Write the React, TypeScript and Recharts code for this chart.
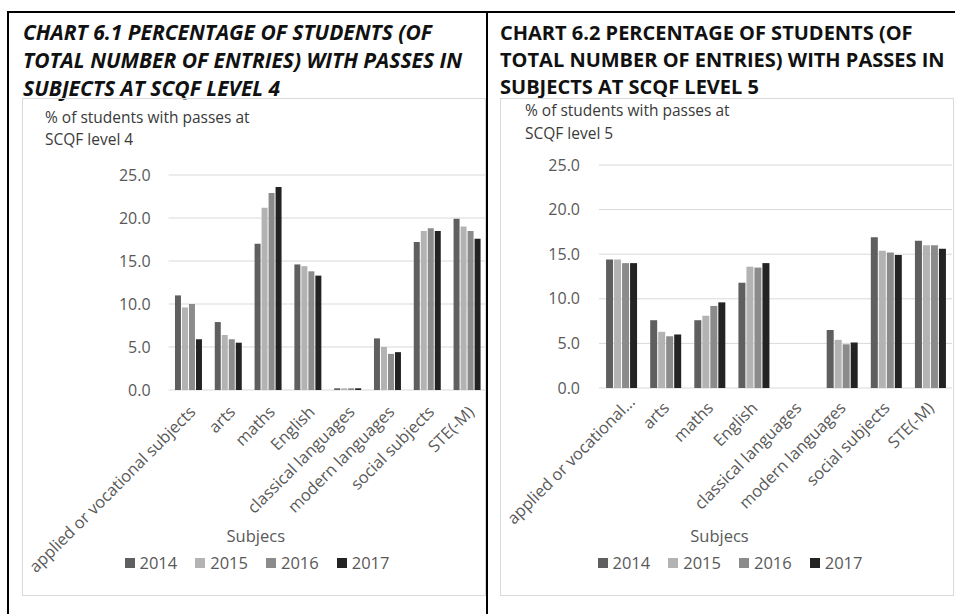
import React from 'react';
import { BarChart, Bar, XAxis, YAxis, CartesianGrid, Legend } from 'recharts';

const categories = [
  'applied or vocational subjects',
  'arts',
  'maths',
  'English',
  'classical languages',
  'modern languages',
  'social subjects',
  'STE(-M)',
];
const level4TickLabels = categories;
const level5TickLabels = [
  'applied or vocational...',
  'arts',
  'maths',
  'English',
  'classical languages',
  'modern languages',
  'social subjects',
  'STE(-M)',
];
const years = ['2014', '2015', '2016', '2017'];

const level4_2014 = [11.0, 7.9, 17.0, 14.6, 0.2, 6.0, 17.2, 19.9];
const level4_2015 = [9.6, 6.4, 21.2, 14.4, 0.2, 5.0, 18.5, 19.0];
const level4_2016 = [10.0, 5.9, 22.9, 13.8, 0.2, 4.2, 18.8, 18.5];
const level4_2017 = [5.9, 5.5, 23.6, 13.3, 0.2, 4.4, 18.5, 17.6];

const level5_2014 = [14.4, 7.6, 7.6, 11.8, null, 6.5, 16.9, 16.5];
const level5_2015 = [14.4, 6.3, 8.1, 13.6, null, 5.4, 15.4, 16.0];
const level5_2016 = [14.0, 5.8, 9.2, 13.5, null, 4.9, 15.2, 16.0];
const level5_2017 = [14.0, 6.0, 9.6, 14.0, null, 5.1, 14.9, 15.6];

const yTicks = [0, 5, 10, 15, 20, 25];
const colors = ['#5f5f5f', '#b3b3b3', '#8b8b8b', '#232323'];

const title1 = [
  'CHART 6.1 PERCENTAGE OF STUDENTS (OF',
  'TOTAL NUMBER OF ENTRIES) WITH PASSES IN',
  'SUBJECTS AT SCQF LEVEL 4',
];
const title2 = [
  'CHART 6.2 PERCENTAGE OF STUDENTS (OF',
  'TOTAL NUMBER OF ENTRIES) WITH PASSES IN',
  'SUBJECTS AT SCQF LEVEL 5',
];
const yTitle1 = ['% of students with passes at', 'SCQF level 4'];
const yTitle2 = ['% of students with passes at', 'SCQF level 5'];
const xTitle = 'Subjecs';

const FONT = '"Open Sans", "Noto Sans", sans-serif';
const TEXT = '#595959';

function buildData(labels: string[], series: (number | null)[][]) {
  return labels.map((label, i) => {
    const row: any = { subject: label };
    years.forEach((y, k) => {
      row['y' + y] = series[k][i];
    });
    return row;
  });
}

const data4 = buildData(level4TickLabels, [level4_2014, level4_2015, level4_2016, level4_2017]);
const data5 = buildData(level5TickLabels, [level5_2014, level5_2015, level5_2016, level5_2017]);

const makeTick = (ddx: number, ddy: number, fontSize: number) => (props: any) => {
  const { x, y, payload } = props;
  const value = String(payload.value);
  const truncated = value.endsWith('...');
  const ax = x + ddx + (truncated ? 10 : 0);
  const ay = y + ddy + (truncated ? -6 : 0);
  return (
    <text
      x={ax}
      y={ay}
      transform={`rotate(-45, ${ax}, ${ay})`}
      textAnchor="end"
      dy="0.35em"
      fill={TEXT}
      fontSize={fontSize}
      fontFamily={FONT}
    >
      {value}
    </text>
  );
};

const makeLegend = (shift: number) => (props: any) => {
  const { payload } = props;
  return (
    <div
      style={{
        display: 'flex',
        justifyContent: 'center',
        alignItems: 'center',
        transform: `translateX(${shift}px)`,
        fontFamily: FONT,
      }}
    >
      {(payload || []).map((p: any, i: number) => (
        <div
          key={i}
          style={{ display: 'flex', alignItems: 'center', marginRight: i < payload.length - 1 ? 18 : 0 }}
        >
          <span style={{ display: 'inline-block', width: 10, height: 10, background: p.color, marginRight: 5 }} />
          <span style={{ fontSize: 16.5, color: TEXT, lineHeight: '22px' }}>{p.value}</span>
        </div>
      ))}
    </div>
  );
};

type ChartProps = {
  data: any[];
  width: number;
  height: number;
  yAxisWidth: number;
  marginRight: number;
  marginTop: number;
  marginBottom: number;
  tickMargin: number;
  tickDx: number;
  tickDy: number;
  tickFont: number;
  labelDx: number;
  labelOffset: number;
  legendTop: number;
  legendShift: number;
};

function SubjectChart(p: ChartProps) {
  return (
    <BarChart
      width={p.width}
      height={p.height}
      data={p.data}
      margin={{ top: p.marginTop, right: p.marginRight, bottom: p.marginBottom, left: 0 }}
      barCategoryGap="16%"
      barGap={1}
    >
      <CartesianGrid vertical={false} stroke="#d9d9d9" strokeWidth={1} />
      <XAxis
        dataKey="subject"
        interval={0}
        tickLine={false}
        axisLine={false}
        height={160}
        tick={makeTick(p.tickDx, p.tickDy, p.tickFont)}
        label={{
          value: xTitle,
          position: 'insideBottom',
          offset: p.labelOffset,
          dx: p.labelDx,
          fill: TEXT,
          fontSize: 16.5,
          fontFamily: FONT,
        }}
      />
      <YAxis
        width={p.yAxisWidth}
        domain={[0, 25]}
        ticks={yTicks}
        interval={0}
        axisLine={false}
        tickLine={false}
        tickMargin={p.tickMargin}
        tickFormatter={(v: number) => v.toFixed(1)}
        tick={{ fill: TEXT, fontSize: 16, fontFamily: FONT }}
      />
      <Legend
        verticalAlign="middle"
        align="center"
        layout="horizontal"
        wrapperStyle={{ top: p.legendTop, left: 0, width: p.width, height: 22 }}
        content={makeLegend(p.legendShift)}
      />
      {years.map((y, k) => (
        <Bar key={y} dataKey={'y' + y} name={y} fill={colors[k]} isAnimationActive={false} />
      ))}
    </BarChart>
  );
}

function TitleBlock({ lines, left, top, lineHeight, italic, fontSize }: any) {
  return (
    <div
      style={{
        position: 'absolute',
        left,
        top,
        fontFamily: FONT,
        fontWeight: 700,
        fontStyle: italic ? 'italic' : 'normal',
        fontSize,
        lineHeight: `${lineHeight}px`,
        color: '#111',
        whiteSpace: 'nowrap',
      }}
    >
      {lines.map((l: string, i: number) => (
        <div key={i}>{l}</div>
      ))}
    </div>
  );
}

function AxisTitle({ lines, left, top, lineHeight }: any) {
  return (
    <div
      style={{
        position: 'absolute',
        left,
        top,
        fontFamily: FONT,
        fontSize: 15.5,
        lineHeight: `${lineHeight}px`,
        color: '#3a3a3a',
        whiteSpace: 'nowrap',
        zIndex: 2,
      }}
    >
      {lines.map((l: string, i: number) => (
        <div key={i}>{l}</div>
      ))}
    </div>
  );
}

export default function App() {
  return (
    <div
      style={{
        position: 'absolute',
        left: 0,
        top: 0,
        width: 955,
        height: 614,
        background: '#fff',
        overflow: 'hidden',
        fontFamily: FONT,
      }}
    >
      {/* table borders */}
      <div style={{ position: 'absolute', left: 7, top: 11, width: 948, height: 2, background: '#000' }} />
      <div style={{ position: 'absolute', left: 7, top: 11, width: 2, height: 603, background: '#000' }} />
      <div style={{ position: 'absolute', left: 486, top: 11, width: 2, height: 603, background: '#000' }} />

      <TitleBlock lines={title1} left={23} top={17.5} lineHeight={28.3} italic fontSize={21} />
      <TitleBlock lines={title2} left={500} top={18.5} lineHeight={27} italic={false} fontSize={20} />

      {/* left chart frame */}
      <div
        style={{
          position: 'absolute',
          left: 22,
          top: 98,
          width: 464,
          height: 498,
          border: '1px solid #d9d9d9',
          boxSizing: 'border-box',
          overflow: 'hidden',
        }}
      >
        <div style={{ position: 'absolute', left: 0, top: 0 }}>
          <SubjectChart
            data={data4}
            width={470}
            height={495}
            yAxisWidth={145.6}
            marginRight={6}
            marginTop={76}
            marginBottom={44}
            tickMargin={12}
            tickDx={4}
            tickDy={11}
            tickFont={16.4}
            labelDx={-72}
            labelOffset={8}
            legendTop={453}
            legendShift={-1}
          />
        </div>
      </div>
      <AxisTitle lines={yTitle1} left={45} top={106} lineHeight={22} />

      {/* right chart frame */}
      <div
        style={{
          position: 'absolute',
          left: 500,
          top: 98,
          width: 454,
          height: 498,
          border: '1px solid #d9d9d9',
          boxSizing: 'border-box',
          overflow: 'hidden',
        }}
      >
        <div style={{ position: 'absolute', left: 0, top: 0 }}>
          <SubjectChart
            data={data5}
            width={452}
            height={495}
            yAxisWidth={98}
            marginRight={1}
            marginTop={66}
            marginBottom={46}
            tickMargin={13}
            tickDx={1}
            tickDy={9}
            tickFont={16.4}
            labelDx={-56}
            labelOffset={6}
            legendTop={453}
            legendShift={3}
          />
        </div>
      </div>
      <AxisTitle lines={yTitle2} left={525} top={99} lineHeight={23} />
    </div>
  );
}
